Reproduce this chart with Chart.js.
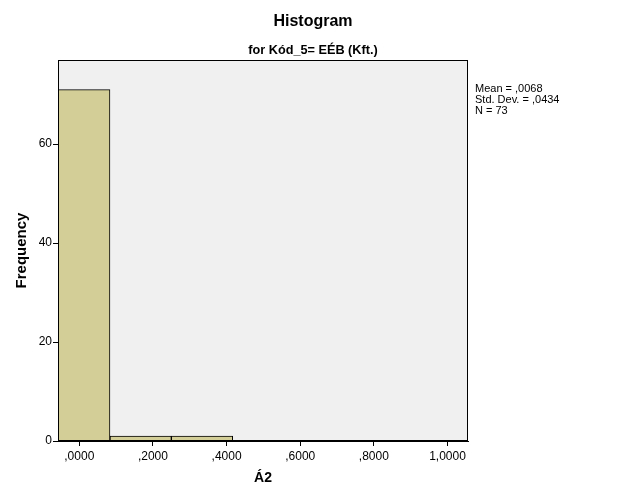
<!DOCTYPE html>
<html>
<head>
<meta charset="utf-8">
<script src="https://cdn.jsdelivr.net/npm/chart.js@4/dist/chart.umd.min.js"></script>
<style>
  html, body { margin: 0; padding: 0; background: #ffffff; }
  #wrap { width: 626px; height: 501px; }
</style>
</head>
<body>
<div id="wrap"><canvas id="c" width="626" height="501"></canvas></div>
<script>
// ---- data ----
const chartTitle = "Histogram";
const chartSubtitle = "for Kód_5= EÉB (Kft.)";
const xAxisTitle = "Á2";
const yAxisTitle = "Frequency";
const binCenters = [0.0, 0.1667, 0.3333];
const frequencies = [71, 1, 1];
const xTickValues = [0.0, 0.2, 0.4, 0.6, 0.8, 1.0];
const xTickLabels = [",0000", ",2000", ",4000", ",6000", ",8000", "1,0000"];
const yTickValues = [0, 20, 40, 60];
const yTickLabels = ["0", "20", "40", "60"];
const statsLines = ["Mean = ,0068", "Std. Dev. = ,0434", "N = 73"];
const xRange = [-0.0578, 1.0556];
const yRange = [0, 77];

const FONT = "'Liberation Sans', Arial, sans-serif";

const framePlugin = {
  id: 'frame',
  beforeDraw(chart) {
    const {ctx, chartArea: a} = chart;
    ctx.save();
    ctx.fillStyle = '#f0f0f0';
    ctx.fillRect(a.left, a.top, a.right - a.left, a.bottom - a.top);
    ctx.restore();
  },
  afterDatasetsDraw(chart) {
    const {ctx, chartArea: a} = chart;
    ctx.save();
    ctx.strokeStyle = '#000';
    ctx.lineWidth = 1;
    ctx.strokeRect(Math.round(a.left) + 0.5, Math.round(a.top) + 0.5,
                   Math.round(a.right - a.left) - 1, Math.round(a.bottom - a.top) - 1);
    ctx.restore();
  },
  afterDraw(chart) {
    const {ctx, chartArea: a} = chart;
    ctx.save();
    ctx.fillStyle = '#000';
    ctx.textAlign = 'center';
    ctx.textBaseline = 'middle';
    ctx.font = "bold 16px " + FONT;
    ctx.fillText(chartTitle, chart.width / 2, 22);
    ctx.font = "bold 12.7px " + FONT;
    ctx.fillText(chartSubtitle, chart.width / 2, 50);
    ctx.textAlign = 'left';
    ctx.font = "11px " + FONT;
    statsLines.forEach((s, i) => ctx.fillText(s, a.right + 7, 88.5 + i * 11));
    ctx.restore();
  }
};

new Chart(document.getElementById('c'), {
  type: 'bar',
  data: {
    datasets: [{
      data: binCenters.map((x, i) => ({x: x, y: frequencies[i]})),
      backgroundColor: '#d3ce97',
      borderColor: '#000000',
      borderWidth: 1,
      barPercentage: 1.0,
      categoryPercentage: 1.0,
      clip: 0
    }]
  },
  options: {
    responsive: false,
    animation: false,
    devicePixelRatio: 1,
    layout: { padding: { left: 0, right: 158, top: 60, bottom: 0 } },
    plugins: { legend: { display: false }, tooltip: { enabled: false }, title: { display: false } },
    scales: {
      x: {
        type: 'linear',
        offset: false,
        min: xRange[0],
        max: xRange[1],
        afterBuildTicks: (s) => { s.ticks = xTickValues.map(v => ({value: v})); },
        afterFit: (s) => { s.height = 60; },
        grid: { display: true, offset: false, drawOnChartArea: false, drawTicks: true, tickLength: 5, tickColor: '#000' },
        border: { display: true, color: '#000' },
        ticks: {
          autoSkip: false, maxRotation: 0, padding: 3, color: '#000',
          font: { family: FONT, size: 12 },
          callback: (v, i) => xTickLabels[i]
        },
        title: { display: true, text: xAxisTitle, color: '#000',
                 font: { family: FONT, size: 14, weight: 'bold' }, padding: { top: 0, bottom: 14.6 } }
      },
      y: {
        type: 'linear',
        min: yRange[0],
        max: yRange[1],
        afterBuildTicks: (s) => { s.ticks = yTickValues.map(v => ({value: v})); },
        afterFit: (s) => { s.width = 58; },
        grid: { display: true, drawOnChartArea: false, drawTicks: true, tickLength: 5, tickColor: '#000' },
        border: { display: true, color: '#000' },
        ticks: {
          autoSkip: false, padding: 1, color: '#000',
          font: { family: FONT, size: 12 },
          callback: (v, i) => yTickLabels[i]
        },
        title: { display: true, text: yAxisTitle, color: '#000',
                 font: { family: FONT, size: 15, weight: 'bold' }, padding: { top: 13, bottom: 0 } }
      }
    }
  },
  plugins: [framePlugin]
});
</script>
</body>
</html>
